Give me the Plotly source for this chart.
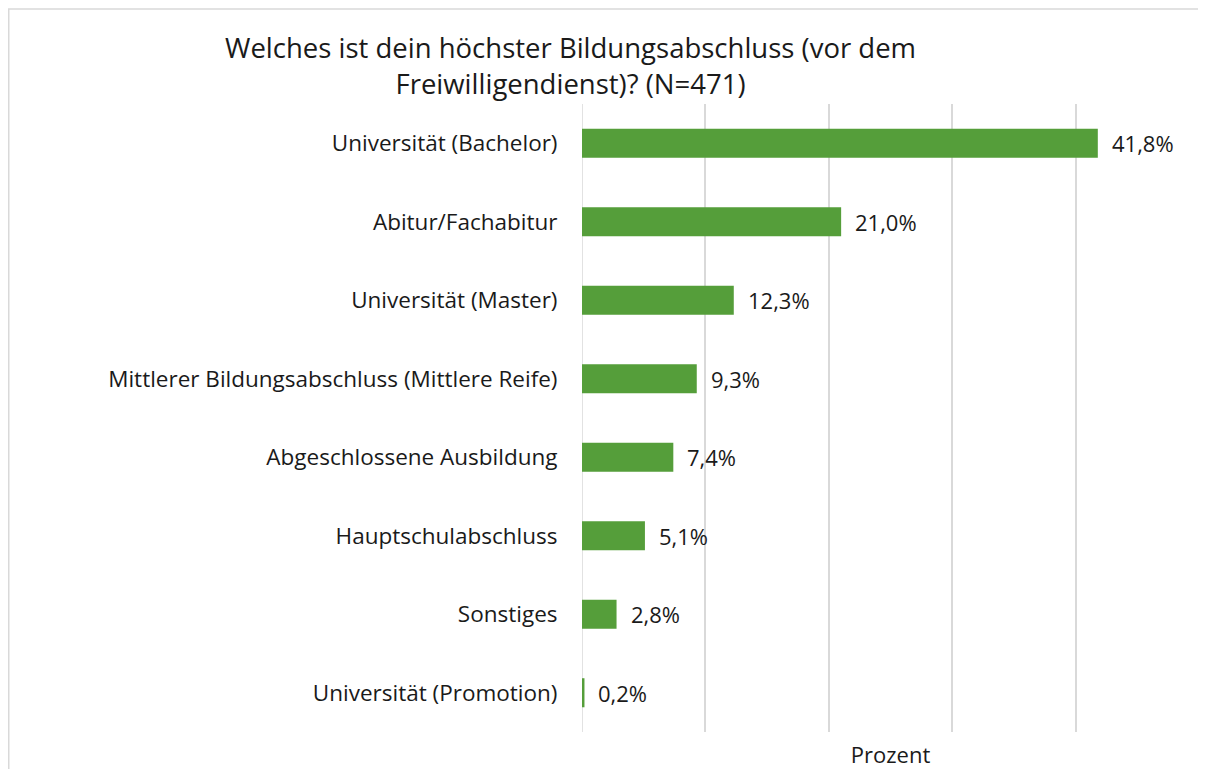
import plotly.graph_objects as go

categories = [
    "Universität (Bachelor)",
    "Abitur/Fachabitur",
    "Universität (Master)",
    "Mittlerer Bildungsabschluss (Mittlere Reife)",
    "Abgeschlossene Ausbildung",
    "Hauptschulabschluss",
    "Sonstiges",
    "Universität (Promotion)",
]
values = [41.8, 21.0, 12.3, 9.3, 7.4, 5.1, 2.8, 0.2]
labels = [f"{v:.1f}%".replace(".", ",") for v in values]

title_text = "Welches ist dein höchster Bildungsabschluss (vor dem<br>Freiwilligendienst)? (N=471)"
x_title = "Prozent"

# page has an 8px body margin, so figure coords = page coords - 8
W, H = 1198, 761
L, R, T, B = 574, 7, 96, 35
FONT = "Open Sans"
TXT = "#1a1a1a"

pw, ph = W - L - R, H - T - B

fig = go.Figure()
fig.add_trace(go.Bar(
    y=categories, x=values, orientation="h",
    marker=dict(color="#559E3A", line=dict(width=0)),
    hoverinfo="x+y",
))

for c, v, t in zip(categories, values, labels):
    fig.add_annotation(x=v, y=c, text=t, showarrow=False, xanchor="left",
                       xshift=12, font=dict(family=FONT, size=22, color=TXT))

fig.add_annotation(xref="paper", yref="paper", x=(562 - L) / pw, y=1 + (T - 57) / ph,
                   text=title_text, showarrow=False, xanchor="center", yanchor="middle",
                   font=dict(family=FONT, size=27.5, color=TXT))

fig.add_shape(type="rect", xref="paper", yref="paper",
              x0=(0.75 - L) / pw, x1=(W + 5 - L) / pw,
              y0=1 - (H + 5 - T) / ph, y1=1 + (T - 0.75) / ph,
              line=dict(color="#D9D9D9", width=1.5), fillcolor="rgba(0,0,0,0)", layer="below")

fig.update_layout(
    width=W, height=H,
    margin=dict(l=L, r=R, t=T, b=B),
    paper_bgcolor="white", plot_bgcolor="white",
    bargap=0.63, showlegend=False,
    font=dict(family=FONT, size=21, color=TXT),
    xaxis=dict(range=[0, 50], dtick=10, showgrid=True, gridcolor="#D9D9D9", gridwidth=1.5,
               zeroline=False, showline=False, showticklabels=False, ticks="",
               title=dict(text=x_title, font=dict(family=FONT, size=22, color=TXT), standoff=15)),
    yaxis=dict(autorange="reversed", showgrid=False, zeroline=False, showline=False,
               ticks="outside", ticklen=19, tickcolor="rgba(0,0,0,0)",
               tickfont=dict(family=FONT, size=22.5, color=TXT)),
)
fig.add_vline(x=0, line=dict(color="#D9D9D9", width=1.5), layer="below")

fig.write_html("out.html")
